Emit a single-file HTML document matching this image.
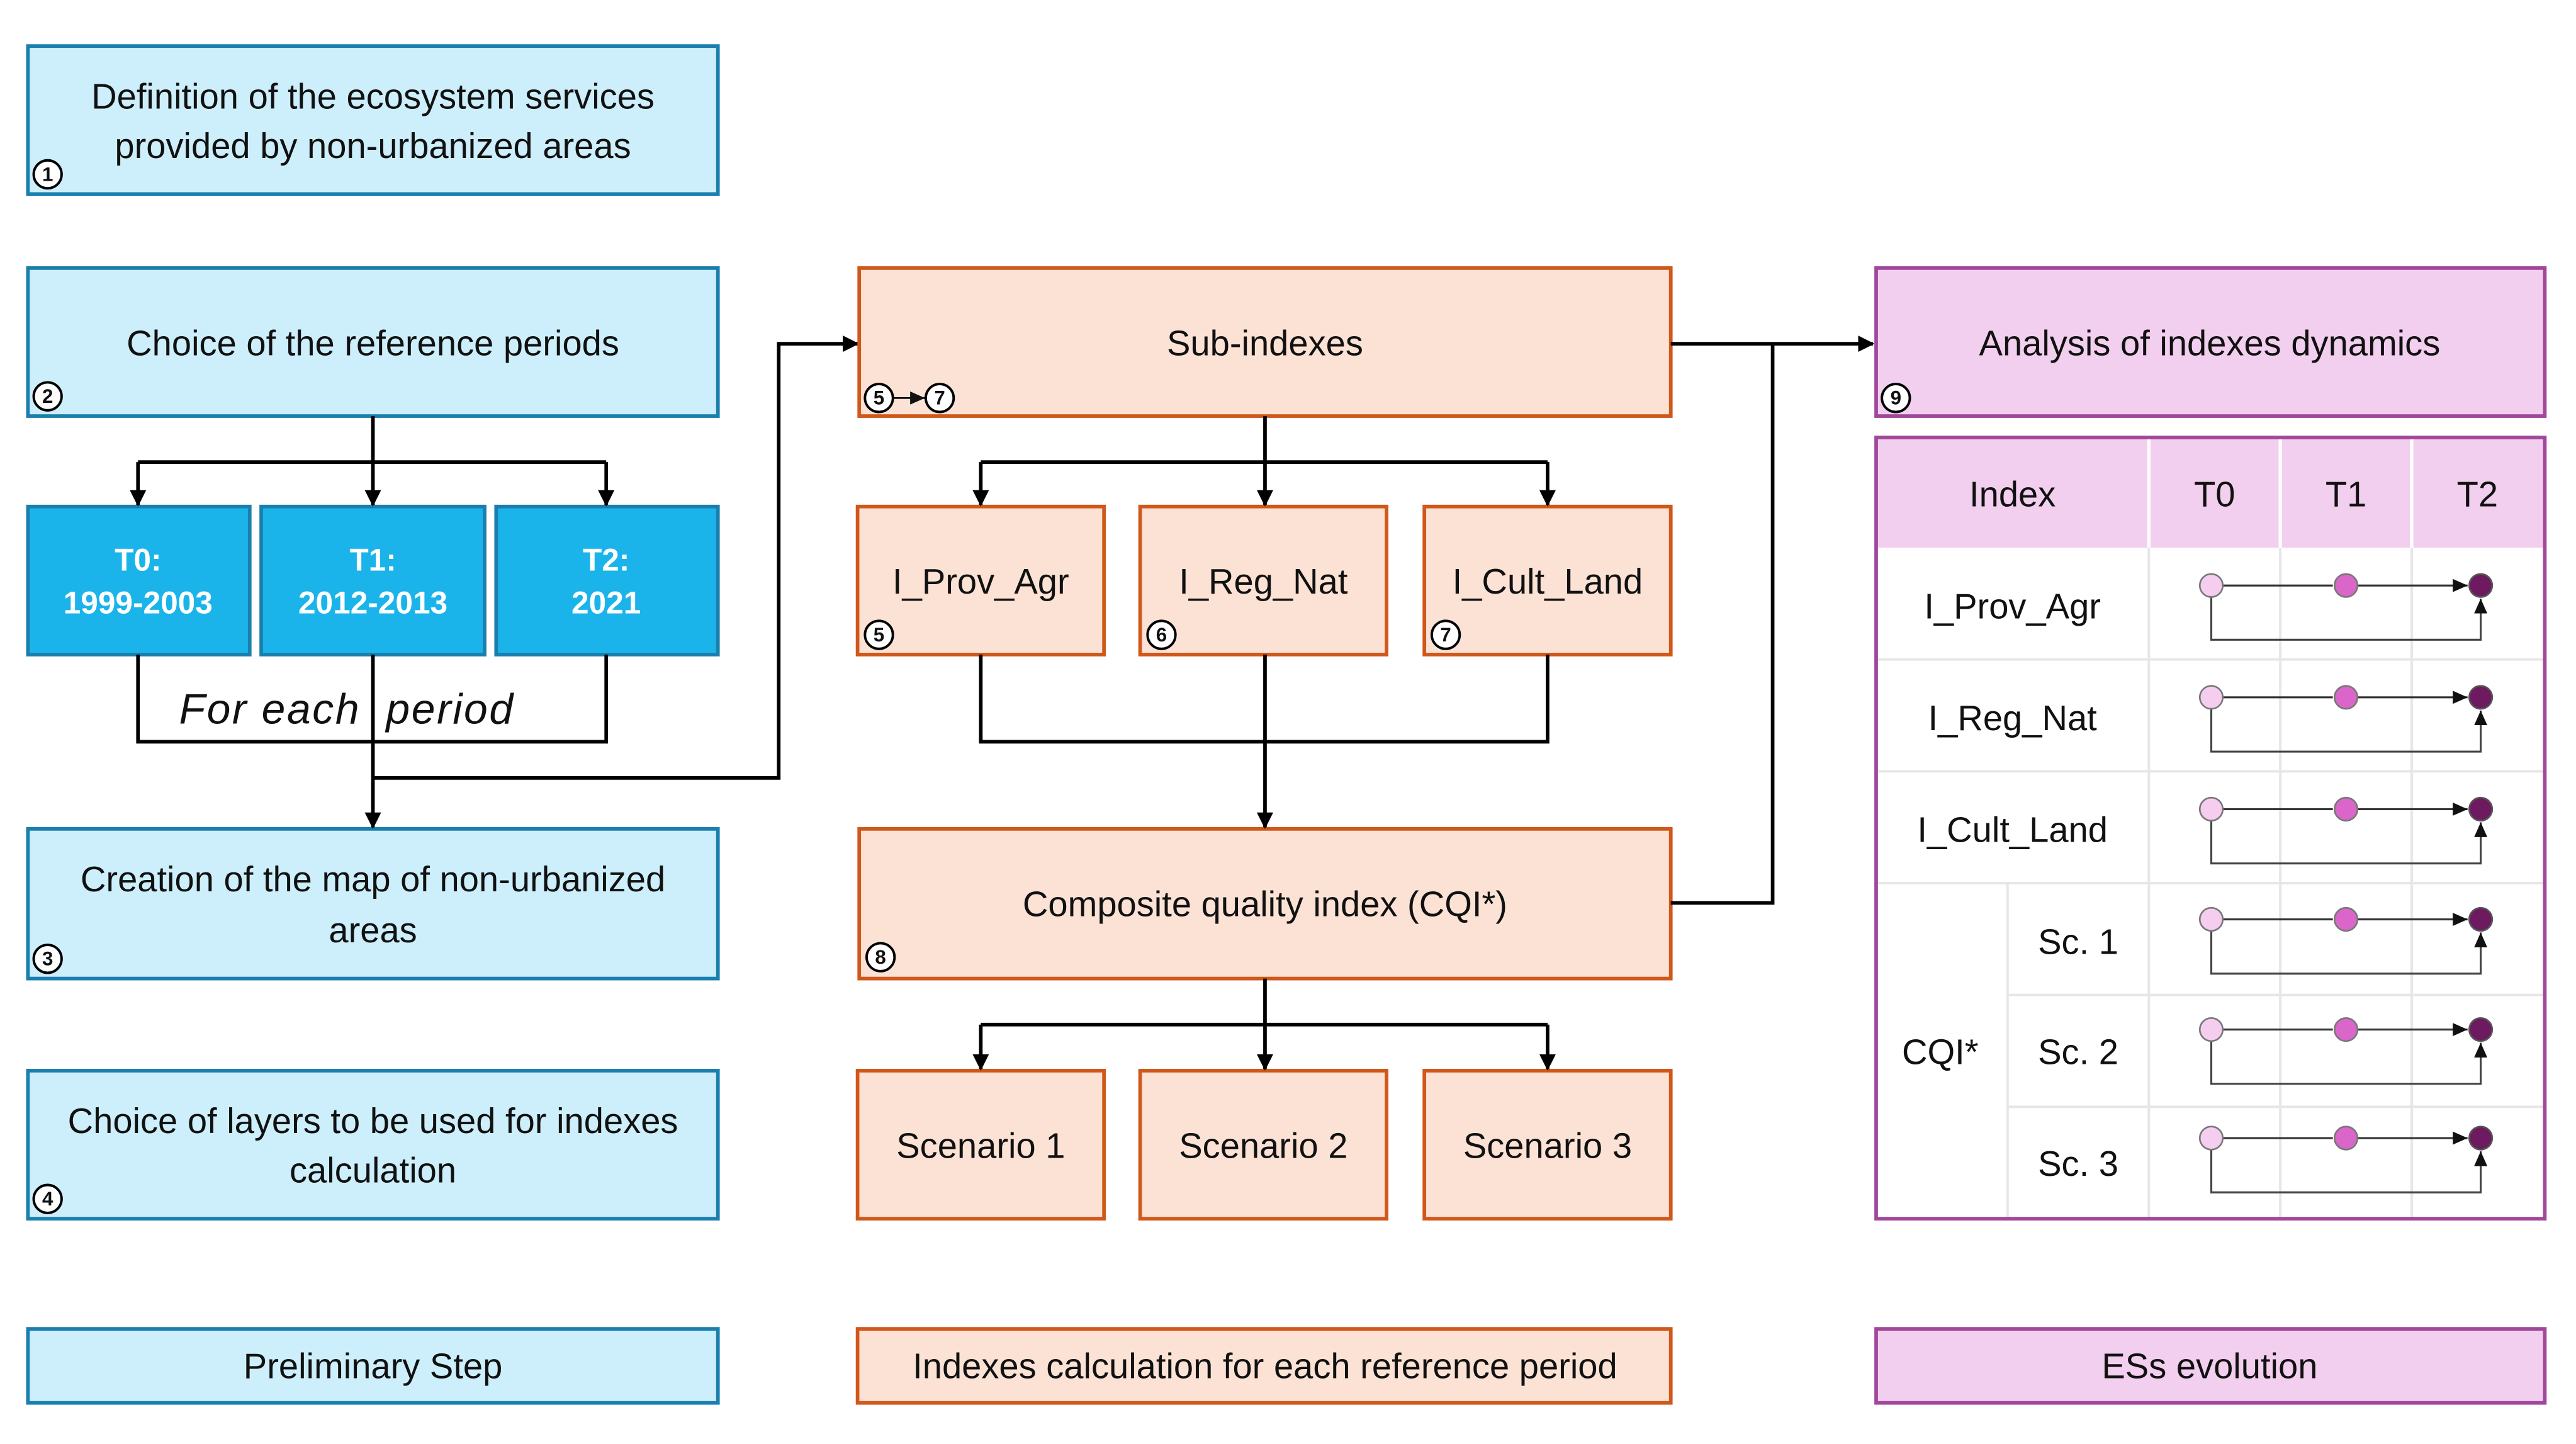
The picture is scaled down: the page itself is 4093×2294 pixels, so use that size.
<!DOCTYPE html>
<html><head><meta charset="utf-8"><style>
html,body{margin:0;padding:0;background:#fff;}
svg{display:block;}
text{font-family:"Liberation Sans",sans-serif;fill:#111;}
text.w{fill:#fff;}
</style></head><body>
<svg width="4093" height="2294" viewBox="0 0 1568 878" preserveAspectRatio="none" xmlns="http://www.w3.org/2000/svg">
<defs>
<marker id="a" markerWidth="10" markerHeight="10" refX="9" refY="5" orient="auto" markerUnits="userSpaceOnUse"><path d="M0,0 L10,5 L0,10 z" fill="#000"/></marker>
<marker id="s" markerWidth="9" markerHeight="8" refX="9" refY="4" orient="auto" markerUnits="userSpaceOnUse"><path d="M0,0 L9,4 L0,8 z" fill="#111"/></marker>
</defs>
<g font-size="21.5">
<!-- Left column -->
<g fill="#cdeefb" stroke="#1b7fae" stroke-width="2.2">
<rect x="17" y="28" width="420" height="90"/>
<rect x="17" y="163" width="420" height="90"/>
<rect x="17" y="504" width="420" height="91"/>
<rect x="17" y="651" width="420" height="90"/>
<rect x="17" y="808" width="420" height="45"/>
</g>
<g fill="#1ab4ea" stroke="#1b7fae" stroke-width="2.2">
<rect x="17" y="308" width="135" height="90"/>
<rect x="159" y="308" width="136" height="90"/>
<rect x="302" y="308" width="135" height="90"/>
</g>
<g text-anchor="middle">
<text x="227" y="66">Definition of the ecosystem services</text>
<text x="227" y="96">provided by non-urbanized areas</text>
<text x="227" y="216">Choice of the reference periods</text>
<text x="227" y="542">Creation of the map of non-urbanized</text>
<text x="227" y="573">areas</text>
<text x="227" y="689">Choice of layers to be used for indexes</text>
<text x="227" y="719">calculation</text>
<text x="227" y="838">Preliminary Step</text>
<g font-weight="bold" font-size="19">
<text class="w" x="84" y="347">T0:</text><text class="w" x="84" y="373">1999-2003</text>
<text class="w" x="227" y="347">T1:</text><text class="w" x="227" y="373">2012-2013</text>
<text class="w" x="369" y="347">T2:</text><text class="w" x="369" y="373">2021</text>
</g>
</g>
<text x="109" y="440" font-style="italic" font-size="26" letter-spacing="1">For each</text>
<text x="235" y="440" font-style="italic" font-size="26" letter-spacing="1">period</text>
<g stroke="#000" stroke-width="2.2" fill="none">
<path d="M227,253 V281 M84,281 H369"/>
<path d="M84,281 V307" marker-end="url(#a)"/><path d="M227,281 V307" marker-end="url(#a)"/><path d="M369,281 V307" marker-end="url(#a)"/>
<path d="M84,398 V451 H369 V398"/>
<path d="M227,398 V503" marker-end="url(#a)"/>
<path d="M227,473 H474 V209 H522" marker-end="url(#a)"/>
</g>
<!-- Middle column -->
<g fill="#fbe2d5" stroke="#d0581a" stroke-width="2.2">
<rect x="523" y="163" width="494" height="90"/>
<rect x="522" y="308" width="150" height="90"/>
<rect x="694" y="308" width="150" height="90"/>
<rect x="867" y="308" width="150" height="90"/>
<rect x="523" y="504" width="494" height="91"/>
<rect x="522" y="651" width="150" height="90"/>
<rect x="694" y="651" width="150" height="90"/>
<rect x="867" y="651" width="150" height="90"/>
<rect x="522" y="808" width="495" height="45"/>
</g>
<g text-anchor="middle">
<text x="770" y="216">Sub-indexes</text>
<text x="597" y="361">I_Prov_Agr</text>
<text x="769" y="361">I_Reg_Nat</text>
<text x="942" y="361">I_Cult_Land</text>
<text x="770" y="557">Composite quality index (CQI*)</text>
<text x="597" y="704">Scenario 1</text>
<text x="769" y="704">Scenario 2</text>
<text x="942" y="704">Scenario 3</text>
<text x="770" y="838">Indexes calculation for each reference period</text>
</g>
<g stroke="#000" stroke-width="2.2" fill="none">
<path d="M770,253 V281 M597,281 H942"/>
<path d="M597,281 V307" marker-end="url(#a)"/><path d="M770,281 V307" marker-end="url(#a)"/><path d="M942,281 V307" marker-end="url(#a)"/>
<path d="M597,398 V451 H942 V398"/>
<path d="M770,398 V503" marker-end="url(#a)"/>
<path d="M770,595 V623 M597,623 H942"/>
<path d="M597,623 V650" marker-end="url(#a)"/><path d="M770,623 V650" marker-end="url(#a)"/><path d="M942,623 V650" marker-end="url(#a)"/>
<path d="M1017,209 H1140" marker-end="url(#a)"/>
<path d="M1017,549 H1079 V209"/>
</g>
<!-- Right column -->
<g fill="#f2cfee" stroke="#a1479b" stroke-width="2.2">
<rect x="1142" y="163" width="407" height="90"/>
<rect x="1142" y="808" width="407" height="45"/>
</g>
<rect x="1142" y="266" width="407" height="475" fill="#fff"/>
<rect x="1143" y="267" width="405" height="66" fill="#f2cfee"/>
<g stroke="#e6e6e6" stroke-width="1.5">
<path d="M1308,333 V741 M1388,333 V741 M1468,333 V741 M1222,537 V741"/>
<path d="M1143,401 H1548 M1143,469 H1548 M1143,537 H1548 M1222,605 H1548 M1222,673 H1548"/>
</g>
<g stroke="#fff" stroke-width="2"><path d="M1308,267 V333 M1388,267 V333 M1468,267 V333"/></g>
<rect x="1142" y="266" width="407" height="475" fill="none" stroke="#a1479b" stroke-width="2.2"/>
<g text-anchor="middle">
<text x="1345" y="216">Analysis of indexes dynamics</text>
<text x="1345" y="838">ESs evolution</text>
<text x="1225" y="308">Index</text>
<text x="1348" y="308">T0</text>
<text x="1428" y="308">T1</text>
<text x="1508" y="308">T2</text>
<text x="1225" y="376">I_Prov_Agr</text>
<text x="1225" y="444">I_Reg_Nat</text>
<text x="1225" y="512">I_Cult_Land</text>
<text x="1265" y="580">Sc. 1</text>
<text x="1265" y="647">Sc. 2</text>
<text x="1265" y="715">Sc. 3</text>
<text x="1181" y="647">CQI*</text>
</g>
<g>
<g transform="translate(0,0)"><path d="M1346,356 V389 H1510 V364" fill="none" stroke="#444" stroke-width="1.2" marker-end="url(#s)"/><path d="M1353,356 H1420 M1435,356 H1502" stroke="#333" stroke-width="1.2" marker-end="url(#s)"/><circle cx="1346" cy="356" r="7" fill="#f4cdef" stroke="#777"/><circle cx="1428" cy="356" r="7" fill="#d966c8" stroke="#777"/><circle cx="1510" cy="356" r="7" fill="#6e1a61" stroke="#555"/></g>
<g transform="translate(0,68)"><path d="M1346,356 V389 H1510 V364" fill="none" stroke="#444" stroke-width="1.2" marker-end="url(#s)"/><path d="M1353,356 H1420 M1435,356 H1502" stroke="#333" stroke-width="1.2" marker-end="url(#s)"/><circle cx="1346" cy="356" r="7" fill="#f4cdef" stroke="#777"/><circle cx="1428" cy="356" r="7" fill="#d966c8" stroke="#777"/><circle cx="1510" cy="356" r="7" fill="#6e1a61" stroke="#555"/></g>
<g transform="translate(0,136)"><path d="M1346,356 V389 H1510 V364" fill="none" stroke="#444" stroke-width="1.2" marker-end="url(#s)"/><path d="M1353,356 H1420 M1435,356 H1502" stroke="#333" stroke-width="1.2" marker-end="url(#s)"/><circle cx="1346" cy="356" r="7" fill="#f4cdef" stroke="#777"/><circle cx="1428" cy="356" r="7" fill="#d966c8" stroke="#777"/><circle cx="1510" cy="356" r="7" fill="#6e1a61" stroke="#555"/></g>
<g transform="translate(0,203)"><path d="M1346,356 V389 H1510 V364" fill="none" stroke="#444" stroke-width="1.2" marker-end="url(#s)"/><path d="M1353,356 H1420 M1435,356 H1502" stroke="#333" stroke-width="1.2" marker-end="url(#s)"/><circle cx="1346" cy="356" r="7" fill="#f4cdef" stroke="#777"/><circle cx="1428" cy="356" r="7" fill="#d966c8" stroke="#777"/><circle cx="1510" cy="356" r="7" fill="#6e1a61" stroke="#555"/></g>
<g transform="translate(0,270)"><path d="M1346,356 V389 H1510 V364" fill="none" stroke="#444" stroke-width="1.2" marker-end="url(#s)"/><path d="M1353,356 H1420 M1435,356 H1502" stroke="#333" stroke-width="1.2" marker-end="url(#s)"/><circle cx="1346" cy="356" r="7" fill="#f4cdef" stroke="#777"/><circle cx="1428" cy="356" r="7" fill="#d966c8" stroke="#777"/><circle cx="1510" cy="356" r="7" fill="#6e1a61" stroke="#555"/></g>
<g transform="translate(0,336)"><path d="M1346,356 V389 H1510 V364" fill="none" stroke="#444" stroke-width="1.2" marker-end="url(#s)"/><path d="M1353,356 H1420 M1435,356 H1502" stroke="#333" stroke-width="1.2" marker-end="url(#s)"/><circle cx="1346" cy="356" r="7" fill="#f4cdef" stroke="#777"/><circle cx="1428" cy="356" r="7" fill="#d966c8" stroke="#777"/><circle cx="1510" cy="356" r="7" fill="#6e1a61" stroke="#555"/></g>
</g>
<!-- circled numbers -->
<g font-size="12" font-weight="bold" text-anchor="middle">
<g fill="#fff" stroke="#000" stroke-width="1.5">
<circle cx="29" cy="106" r="8.5"/><circle cx="29" cy="241" r="8.5"/><circle cx="29" cy="583" r="8.5"/><circle cx="29" cy="729" r="8.5"/>
<circle cx="535" cy="242" r="8.5"/><circle cx="572" cy="242" r="8.5"/>
<circle cx="535" cy="386" r="8.5"/><circle cx="707" cy="386" r="8.5"/><circle cx="880" cy="386" r="8.5"/>
<circle cx="536" cy="582" r="8.5"/><circle cx="1154" cy="242" r="8.5"/>
</g>
<text x="29" y="110">1</text><text x="29" y="245">2</text><text x="29" y="587">3</text><text x="29" y="733">4</text>
<text x="535" y="246">5</text><text x="572" y="246">7</text>
<text x="535" y="390">5</text><text x="707" y="390">6</text><text x="880" y="390">7</text>
<text x="536" y="586">8</text><text x="1154" y="246">9</text>
<path d="M544,242 H563" stroke="#000" stroke-width="1" marker-end="url(#s)"/>
</g>
</g>
</svg>
</body></html>
